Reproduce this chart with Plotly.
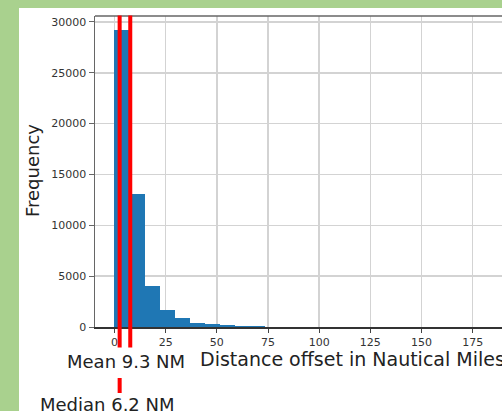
import plotly.graph_objects as go

# ---- data ----
bin_edges = [0, 7.35, 14.7, 22.05, 29.4, 36.75, 44.1, 51.45, 58.8, 66.15, 73.5, 80.85]
counts = [29250, 13060, 4030, 1710, 880, 440, 290, 180, 110, 70, 40]
x_ticks = [0, 25, 50, 75, 100, 125, 150, 175]
y_ticks = [0, 5000, 10000, 15000, 20000, 25000, 30000]
y_tick_text = ["0", "5000", "10000", "15000", "20000", "25000", "30000"]
mean_label = "Mean 9.3 NM"
median_label = "Median 6.2 NM"
x_title = "Distance offset in Nautical Miles"
y_title = "Frequency"

centers = [(bin_edges[i] + bin_edges[i + 1]) / 2 for i in range(len(counts))]
widths = [bin_edges[i + 1] - bin_edges[i] for i in range(len(counts))]

W, H = 502, 411
# plot area in window pixels
PL, PR, PT, PB = 95, 502, 16, 327
L, R, T, B = PL, W - PR, PT, H - PB
pw, ph = PR - PL, PB - PT

def px(xwin):
    return (xwin - PL) / pw

def py(ywin):
    return 1 - (ywin - PT) / ph

FONT = "DejaVu Sans"
GREEN = "#a9d18e"

fig = go.Figure()
fig.add_trace(go.Bar(x=centers, y=counts, width=widths,
                     marker=dict(color="#1f77b4", line=dict(width=0))))

shapes = []
# white card on green background
shapes.append(dict(type="rect", xref="paper", yref="paper",
                   x0=px(19), x1=px(W + 5), y0=py(H + 5), y1=py(8),
                   fillcolor="white", line=dict(width=0), layer="below"))
# top spine
shapes.append(dict(type="line", xref="paper", yref="paper", x0=0, x1=1, y0=1, y1=1,
                   line=dict(color="#666666", width=1.5), layer="above"))
# red marker lines
for x0, x1 in [(1.56, 3.52), (6.74, 8.70)]:
    shapes.append(dict(type="rect", xref="x", yref="paper", x0=x0, x1=x1,
                       y0=py(347.5), y1=py(15.5), fillcolor="#ff0000",
                       line=dict(width=0), layer="above"))
shapes.append(dict(type="rect", xref="x", yref="paper", x0=1.56, x1=3.52,
                   y0=py(393), y1=py(378), fillcolor="#ff0000",
                   line=dict(width=0), layer="above"))

annotations = [
    dict(text=y_title, xref="paper", yref="paper", x=px(33), y=py(170), textangle=-90,
         showarrow=False, font=dict(family=FONT, size=18, color="#222222"),
         xanchor="center", yanchor="middle"),
    dict(text=x_title, xref="paper", yref="paper", x=px(198), y=py(359),
         showarrow=False, font=dict(family=FONT, size=19, color="#222222"),
         xanchor="left", yanchor="middle"),
    dict(text=mean_label, xref="paper", yref="paper", x=px(126), y=py(361),
         showarrow=False, font=dict(family=FONT, size=18, color="#222222"),
         xanchor="center", yanchor="middle"),
    dict(text=median_label, xref="paper", yref="paper", x=px(107.5), y=py(404),
         showarrow=False, font=dict(family=FONT, size=18, color="#222222"),
         xanchor="center", yanchor="middle"),
]

fig.update_layout(
    width=W, height=H,
    margin=dict(l=L, r=R, t=T, b=B, pad=0),
    paper_bgcolor=GREEN, plot_bgcolor="white",
    showlegend=False, bargap=0,
    shapes=shapes, annotations=annotations,
    font=dict(family=FONT, size=11, color="#333333"),
)
fig.update_xaxes(range=[-9.5, 189.3], tickvals=x_ticks, ticks="outside", ticklen=4,
                 tickcolor="#444444", showgrid=True, gridcolor="#d3d3d3", gridwidth=1.5,
                 showline=True, linecolor="#333333", linewidth=1.5, zeroline=False,
                 tickfont=dict(family=FONT, size=11, color="#333333"))
fig.update_yaxes(range=[0, 30580], tickvals=y_ticks, ticktext=y_tick_text,
                 ticks="outside", ticklen=5,
                 tickcolor="#666666", showgrid=True, gridcolor="#d3d3d3", gridwidth=1.5,
                 showline=True, linecolor="#666666", linewidth=1.5, zeroline=False,
                 tickfont=dict(family=FONT, size=11, color="#333333"))

page_css = ("document.body.style.margin='0';"
            "document.body.style.overflow='hidden';"
            "document.body.style.background='" + GREEN + "';")
fig.write_html("out.html", post_script=page_css,
               config={"displayModeBar": False, "staticPlot": True})
